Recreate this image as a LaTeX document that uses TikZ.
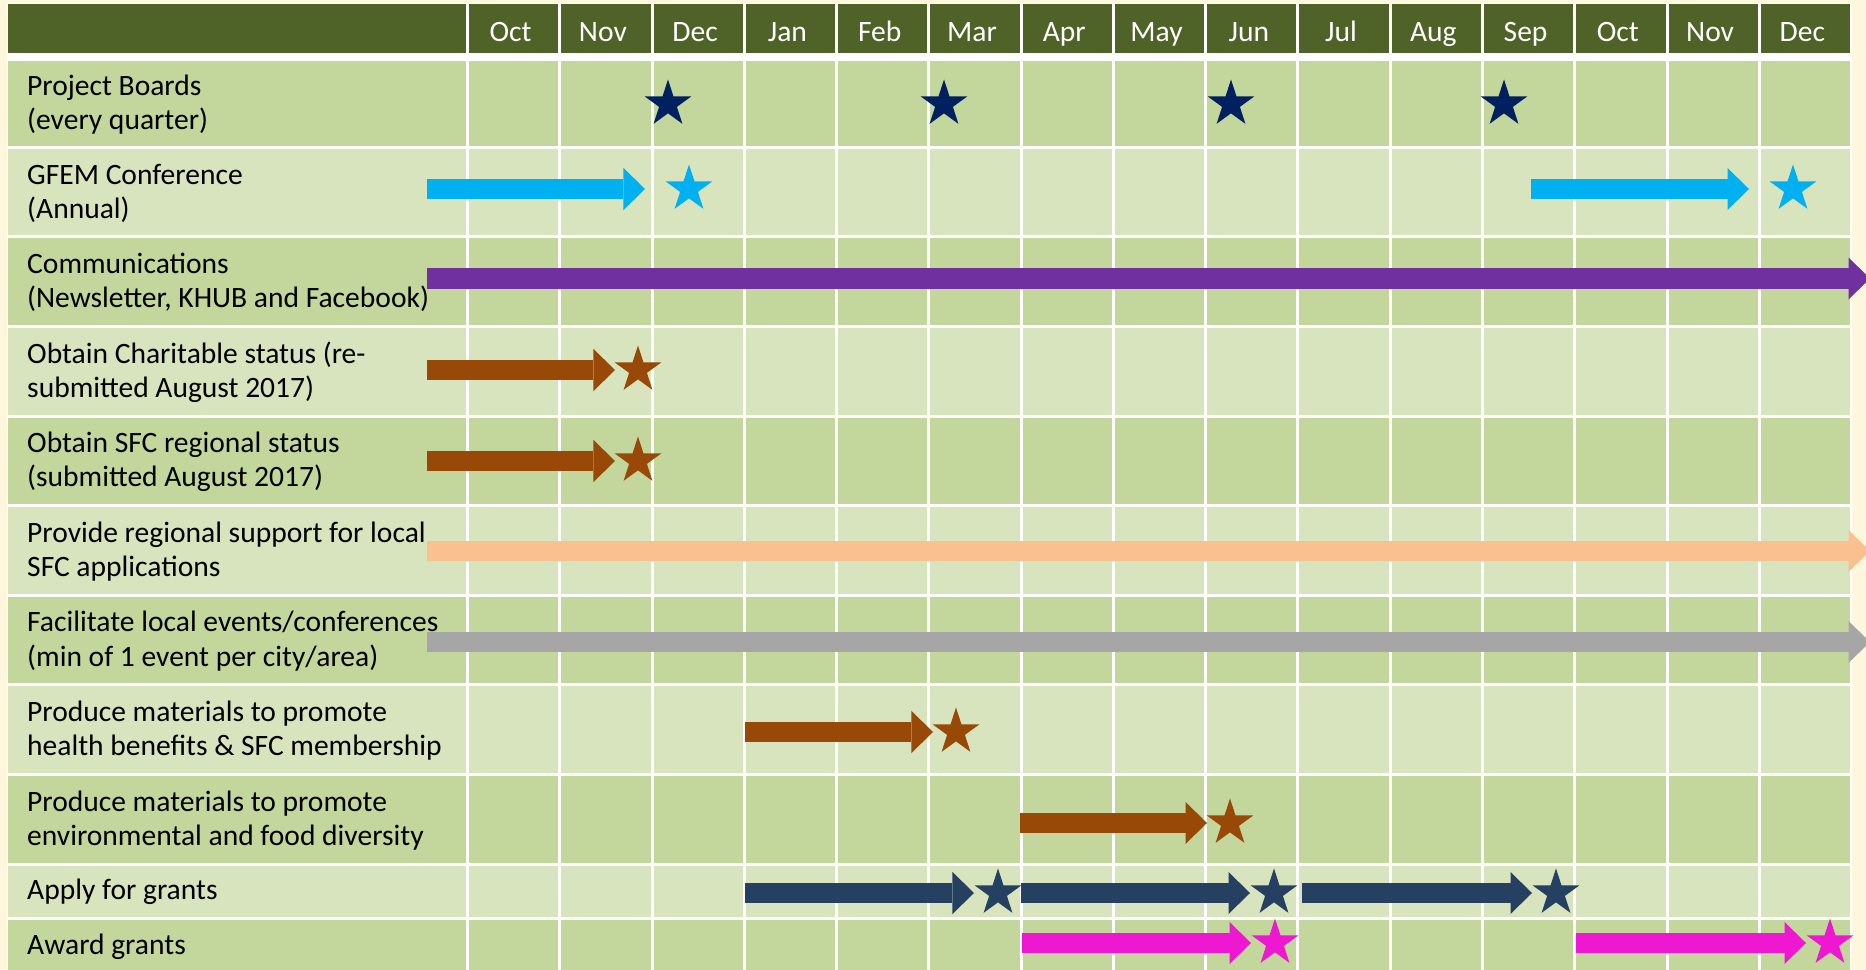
\documentclass[tikz,border=0pt]{standalone}
\usepackage{fontspec}
\setmainfont{Carlito}
\usepackage{xcolor}
\usetikzlibrary{arrows.meta,calc,shapes.geometric}

\definecolor{creambg}{HTML}{FEF7DE}
\definecolor{hdrgreen}{HTML}{4F6228}
\definecolor{rowdk}{HTML}{C3D69B}
\definecolor{rowlt}{HTML}{D7E4BD}
\definecolor{boardnavy}{HTML}{002060}
\definecolor{confcyan}{HTML}{00B0F0}
\definecolor{commpurple}{HTML}{7030A0}
\definecolor{statusbrown}{HTML}{984807}
\definecolor{supportpeach}{HTML}{FAC090}
\definecolor{eventgray}{HTML}{A6A6A6}
\definecolor{grantnavy}{HTML}{254061}
\definecolor{awardpink}{HTML}{EE18D0}

\begin{document}
\begin{tikzpicture}[
  x=0.01cm, y=-0.01cm,
  cellfont/.style={font=\fontsize{8.4}{9.7}\selectfont},
  month/.style={cellfont, anchor=base, inner sep=0pt, text=white},
  task/.style={cellfont, anchor=west, align=left, inner sep=0pt, text=black},
  ganttbar/.style={line width=0.205cm,
                   -{Triangle[width=0.42cm, length=0.215cm, line width=0pt]}},
  mstone/.style={star, star points=5, star point ratio=2.618,
                 minimum size=0.49cm, inner sep=0pt, outer sep=0pt},
]
\useasboundingbox (0,0) rectangle (1866,970);
\clip (0,0) rectangle (1866,970);
\fill[creambg] (0,0) rectangle (1866,970);
\fill[white] (6.5,3) rectangle (1852,975);

\fill[hdrgreen] (8,4.5)   rectangle (1850,53);
\fill[rowdk]    (8,61.5)  rectangle (1850,145.8);
\fill[rowlt]    (8,148.8) rectangle (1850,235.4);
\fill[rowdk]    (8,238.4) rectangle (1850,325.0);
\fill[rowlt]    (8,328.0) rectangle (1850,414.6);
\fill[rowdk]    (8,417.6) rectangle (1850,504.2);
\fill[rowlt]    (8,507.2) rectangle (1850,593.8);
\fill[rowdk]    (8,596.8) rectangle (1850,683.4);
\fill[rowlt]    (8,686.4) rectangle (1850,773.0);
\fill[rowdk]    (8,776.0) rectangle (1850,862.6);
\fill[rowlt]    (8,865.6) rectangle (1850,917.0);
\fill[rowdk]    (8,920.0) rectangle (1850,975);

\draw[white, line width=0.03cm]
  (467.5,3) -- (467.5,975)   (559.8,3) -- (559.8,975)   (652.0,3) -- (652.0,975)
  (744.3,3) -- (744.3,975)   (836.6,3) -- (836.6,975)   (928.9,3) -- (928.9,975)
  (1021.1,3) -- (1021.1,975) (1113.4,3) -- (1113.4,975) (1205.7,3) -- (1205.7,975)
  (1297.9,3) -- (1297.9,975) (1390.2,3) -- (1390.2,975) (1482.5,3) -- (1482.5,975)
  (1574.7,3) -- (1574.7,975) (1667.0,3) -- (1667.0,975) (1759.3,3) -- (1759.3,975);

\node[month] (m1)  at (510.6,41.5)  {Oct};  \node[month] (m2)  at (602.9,41.5)  {Nov};
\node[month] (m3)  at (695.1,41.5)  {Dec};  \node[month] (m4)  at (787.4,41.5)  {Jan};
\node[month] (m5)  at (879.7,41.5)  {Feb};  \node[month] (m6)  at (972.0,41.5)  {Mar};
\node[month] (m7)  at (1064.2,41.5) {Apr};  \node[month] (m8)  at (1156.5,41.5) {May};
\node[month] (m9)  at (1248.8,41.5) {Jun};  \node[month] (m10) at (1341.0,41.5) {Jul};
\node[month] (m11) at (1433.3,41.5) {Aug};  \node[month] (m12) at (1525.6,41.5) {Sep};
\node[month] (m13) at (1617.8,41.5) {Oct};  \node[month] (m14) at (1710.1,41.5) {Nov};
\node[month] (m15) at (1802.4,41.5) {Dec};

\node[task] (t1)  at (26.5,104.6) {Project Boards\\(every quarter)};
\node[task] (t2)  at (26.5,193.1) {GFEM Conference\\(Annual)};
\node[task] (t3)  at (26.5,282.7) {Communications\\(Newsletter, KHUB and Facebook)};
\node[task] (t4)  at (26.5,372.3) {Obtain Charitable status (re-\\submitted August 2017)};
\node[task] (t5)  at (26.5,461.9) {Obtain SFC regional status\\(submitted August 2017)};
\node[task] (t6)  at (26.5,551.5) {Provide regional support for local\\SFC applications};
\node[task] (t7)  at (26.5,641.1) {Facilitate local events/conferences\\(min of 1 event per city/area)};
\node[task] (t8)  at (26.5,730.7) {Produce materials to promote\\health benefits \& SFC membership};
\node[task] (t9)  at (26.5,820.3) {Produce materials to promote\\environmental and food diversity};
\node[task] (t10) at (26.5,891.8) {Apply for grants};
\node[task] (t11) at (26.5,946.5) {Award grants};

\node[mstone, fill=boardnavy] (pb1) at (668,104)  {};
\node[mstone, fill=boardnavy] (pb2) at (944,104)  {};
\node[mstone, fill=boardnavy] (pb3) at (1231,104) {};
\node[mstone, fill=boardnavy] (pb4) at (1504,104) {};

\coordinate (c2a) at (427,189);  \node[mstone, fill=confcyan] (g2a) at (689,189)  {};
\coordinate (c2b) at (1531,189); \node[mstone, fill=confcyan] (g2b) at (1793,189) {};
\draw[ganttbar, confcyan] (c2a) -- ($(g2a)+(-44,0)$);
\draw[ganttbar, confcyan] (c2b) -- ($(g2b)+(-44,0)$);

\coordinate (c3) at (427,278.5); \coordinate (e3) at (1870,278.5);
\draw[ganttbar, commpurple] (c3) -- (e3);

\coordinate (c4) at (427,370); \node[mstone, fill=statusbrown] (g4) at (638,370) {};
\coordinate (c5) at (427,461); \node[mstone, fill=statusbrown] (g5) at (638,461) {};
\draw[ganttbar, statusbrown] (c4) -- ($(g4)+(-23,0)$);
\draw[ganttbar, statusbrown] (c5) -- ($(g5)+(-23,0)$);

\coordinate (c6) at (427,551); \coordinate (e6) at (1870,551);
\draw[ganttbar, supportpeach] (c6) -- (e6);
\coordinate (c7) at (427,642); \coordinate (e7) at (1870,642);
\draw[ganttbar, eventgray] (c7) -- (e7);

\coordinate (c8) at (745,732);  \node[mstone, fill=statusbrown] (g8) at (956,732)  {};
\coordinate (c9) at (1020,823); \node[mstone, fill=statusbrown] (g9) at (1230,823) {};
\draw[ganttbar, statusbrown] (c8) -- ($(g8)+(-23,0)$);
\draw[ganttbar, statusbrown] (c9) -- ($(g9)+(-23,0)$);

\coordinate (c10a) at (745,893);  \node[mstone, fill=grantnavy] (g10a) at (998,893)  {};
\coordinate (c10b) at (1021,893); \node[mstone, fill=grantnavy] (g10b) at (1274,893) {};
\coordinate (c10c) at (1302,893); \node[mstone, fill=grantnavy] (g10c) at (1556,893) {};
\draw[ganttbar, grantnavy] (c10a) -- ($(g10a)+(-24,0)$);
\draw[ganttbar, grantnavy] (c10b) -- ($(g10b)+(-24,0)$);
\draw[ganttbar, grantnavy] (c10c) -- ($(g10c)+(-24,0)$);

\coordinate (c11a) at (1022,943); \node[mstone, fill=awardpink] (g11a) at (1275,943) {};
\coordinate (c11b) at (1576,943); \node[mstone, fill=awardpink] (g11b) at (1830,943) {};
\draw[ganttbar, awardpink] (c11a) -- ($(g11a)+(-24,0)$);
\draw[ganttbar, awardpink] (c11b) -- ($(g11b)+(-24,0)$);
\end{tikzpicture}
\end{document}
